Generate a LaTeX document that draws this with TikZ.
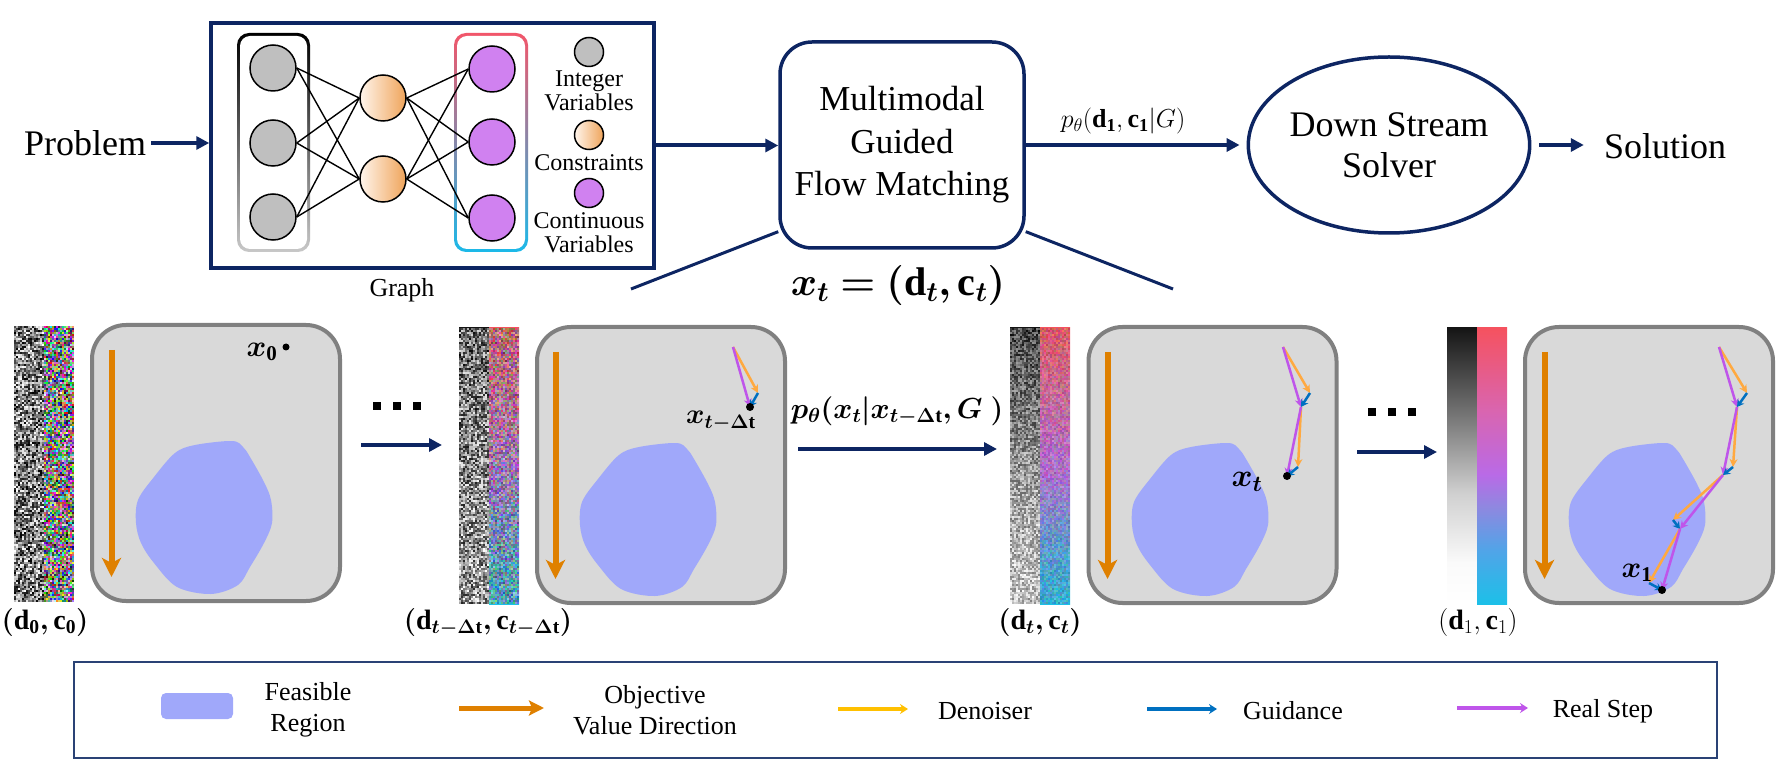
\RequirePackage{fix-cm}
\documentclass[tikz,border=0pt]{standalone}
\usepackage{amsmath,bm}
\usepackage{fontspec}
\setmainfont{Liberation Serif}
\usetikzlibrary{arrows.meta,shapes.geometric}

\definecolor{navy}{HTML}{0D2562}
\definecolor{legnavy}{HTML}{2A4275}
\definecolor{panelfill}{HTML}{D9D9D9}
\definecolor{panelborder}{HTML}{808080}
\definecolor{blobc}{HTML}{A0A8FA}
\definecolor{objor}{HTML}{DF8000}
\definecolor{denor}{HTML}{FFA940}
\definecolor{denleg}{HTML}{FFC000}
\definecolor{guid}{HTML}{0070C0}
\definecolor{realst}{HTML}{BF55EA}
\definecolor{graynode}{HTML}{BFBFBF}
\definecolor{purnode}{HTML}{D081F0}
\definecolor{orlight}{HTML}{FFF5EC}
\definecolor{ordark}{HTML}{EFA45A}
\definecolor{lgray}{HTML}{C8C8C8}
\definecolor{rtop}{HTML}{F2566A}
\definecolor{rbot}{HTML}{1BB9E9}
\definecolor{cb0}{HTML}{1CC0E8}
\definecolor{cb1}{HTML}{4FA5E8}
\definecolor{cb2}{HTML}{8E88E0}
\definecolor{cb3}{HTML}{B96AE6}
\definecolor{cb4}{HTML}{D965B0}
\definecolor{cb5}{HTML}{F5525F}
\definecolor{gb1}{HTML}{FAFAFA}
\definecolor{gb2}{HTML}{D0D0D0}
\definecolor{gb3}{HTML}{808080}
\definecolor{gb4}{HTML}{151515}

% TikZ maps a path onto the 25bp..75bp band of a shading
\pgfdeclareverticalshading{colbar}{100bp}{color(0bp)=(cb0); color(25bp)=(cb0); color(34.5bp)=(cb1); color(42.5bp)=(cb2); color(48.5bp)=(cb3); color(60bp)=(cb4); color(75bp)=(cb5); color(100bp)=(cb5)}
\pgfdeclareverticalshading{graybar}{100bp}{color(0bp)=(white); color(25bp)=(white); color(32.5bp)=(gb1); color(45bp)=(gb2); color(57.5bp)=(gb3); color(75bp)=(gb4); color(100bp)=(gb4)}

\newcommand\mygnoise[5]{%
 \begin{pgfscope}\pgfsetfillopacity{#5}%
 \foreach \ii in {1,...,#3}{\foreach \jj in {1,...,#4}{%
   \pgfmathsetmacro\gv{rnd}%
   \definecolor{nz}{gray}{\gv}\pgfsetfillcolor{nz}%
   \pgfpathrectangle{\pgfpointxy{#1+(\ii-1)*2}{#2+(\jj-1)*2}}{\pgfpointxy{2}{2}}%
   \pgfusepath{fill}%
 }}%
 \end{pgfscope}}
\newcommand\mycnoise[5]{%
 \begin{pgfscope}\pgfsetfillopacity{#5}%
 \foreach \ii in {1,...,#3}{\foreach \jj in {1,...,#4}{%
   \pgfmathsetmacro\rv{rnd}\pgfmathsetmacro\gv{rnd}\pgfmathsetmacro\bv{rnd}%
   \definecolor{nz}{rgb}{\rv,\gv,\bv}\pgfsetfillcolor{nz}%
   \pgfpathrectangle{\pgfpointxy{#1+(\ii-1)*2}{#2+(\jj-1)*2}}{\pgfpointxy{2}{2}}%
   \pgfusepath{fill}%
 }}%
 \end{pgfscope}}
\newcommand\mydt{\bm{t}\bm{-}\bm{\Delta}\mathbf{t}}

\tikzset{
  navyarrow/.style={draw=navy, line width=4pt, -{Triangle[length=13pt,width=13pt]}},
  navyline/.style={draw=navy, line width=3pt},
  edge/.style={draw=black, line width=1.4pt},
  gnode/.style={circle, draw=black, line width=1.5pt, fill=graynode, minimum size=46pt, inner sep=0pt},
  onode/.style={circle, draw=black, line width=1.5pt, left color=orlight, right color=ordark, minimum size=46pt, inner sep=0pt},
  pnode/.style={circle, draw=black, line width=1.5pt, fill=purnode, minimum size=46pt, inner sep=0pt},
  gsmall/.style={gnode, minimum size=29pt},
  osmall/.style={onode, minimum size=29pt},
  psmall/.style={pnode, minimum size=29pt},
  bigtxt/.style={inner sep=0pt, align=center, font=\fontsize{36pt}{42pt}\selectfont},
  gltxt/.style={inner sep=0pt, align=center, font=\fontsize{24pt}{24pt}\selectfont},
  legtxt/.style={inner sep=0pt, align=center, font=\fontsize{26pt}{31pt}\selectfont},
  mathlbl/.style={inner sep=0pt, font=\fontsize{28pt}{32pt}\selectfont},
  panel/.style={draw=panelborder, fill=panelfill, line width=4pt, rounded corners=34pt, minimum width=248pt, minimum height=276pt, inner sep=0pt},
  objarrow/.style={draw=objor, line width=6pt, -{Stealth[length=19pt,width=19pt,inset=5pt]}},
  den/.style={draw=denor, line width=2.5pt, -{Stealth[length=8pt,width=8pt]}},
  gd/.style={draw=guid, line width=2.5pt, -{Stealth[length=7pt,width=8pt]}},
  rs/.style={draw=realst, line width=2.5pt, -{Stealth[length=8pt,width=8pt]}},
  dotsq/.style={fill=black},
}

\begin{document}
\begin{tikzpicture}[x=1pt,y=-1pt]
\useasboundingbox (0,0) rectangle (1788,775);
\pgfmathsetseed{4242}

% ---------------- top row ----------------
\node[bigtxt] (prob) at (85,143) {Problem};
\node[draw=navy, line width=3.5pt, fill=white, minimum width=443pt, minimum height=245pt, inner sep=0pt] (gbox) at (432.5,145.5) {};
\draw[navyarrow, shorten <=5pt] (prob.east) -- (prob.east -| gbox.west);

% gradient frames
\shade[top color=black, bottom color=lgray, rounded corners=12pt] (237,33) rectangle (310,252);
\fill[white, rounded corners=10pt] (240,36) rectangle (307,249);
\shade[top color=rtop, bottom color=rbot, rounded corners=12pt] (454,33) rectangle (528,252);
\fill[white, rounded corners=10pt] (457,36) rectangle (525,249);

\node[gnode] (g1) at (273,68) {};
\node[gnode] (g2) at (273,143) {};
\node[gnode] (g3) at (273,217) {};
\node[onode] (o1) at (383,98) {};
\node[onode] (o2) at (383,179) {};
\node[pnode] (c1) at (492,69) {};
\node[pnode] (c2) at (492,142) {};
\node[pnode] (c3) at (492,218) {};
\foreach \g in {g1,g2,g3}{\foreach \o in {o1,o2}{\draw[edge] (\g.east) -- (\o.west);}}
\foreach \o in {o1,o2}{\foreach \c in {c1,c2,c3}{\draw[edge] (\o.east) -- (\c.west);}}

\node[gsmall] (lg1) at (589,52) {};
\node[gltxt] (tint) at (589,91) {Integer\\Variables};
\node[osmall] (lg2) at (589,135) {};
\node[gltxt] (tcon) at (589,163) {Constraints};
\node[psmall] (lg3) at (589,193) {};
\node[gltxt] (tcont) at (589,233) {Continuous\\Variables};

\node[inner sep=0pt, font=\fontsize{26pt}{30pt}\selectfont] (glabel) at (402,290) {Graph};

\node[draw=navy, line width=3.5pt, fill=white, rounded corners=32pt, minimum width=244pt, minimum height=206pt, inner sep=0pt, align=center, font=\fontsize{35pt}{42.5pt}\selectfont] (mm) at (902,145) {Multimodal\\Guided\\Flow Matching};
\draw[navyarrow] (gbox.east) -- (gbox.east -| mm.west);

\node[ellipse, draw=navy, line width=3.5pt, minimum width=264pt, minimum height=176pt, inner sep=0pt, align=center, font=\fontsize{36pt}{41pt}\selectfont] (ds) at (1389,145) {Down Stream\\Solver};
\draw[navyarrow, shorten >=7pt] (mm.east) -- (mm.east -| ds.west);
\node[inner sep=0pt, font=\fontsize{26pt}{30pt}\selectfont] (plbl) at (1123,121) {$p_{\theta}(\mathbf{d}_{\mathbf{1}},\mathbf{c}_{\mathbf{1}}|G)$};

\node[bigtxt] (sol) at (1665,146) {Solution};
\draw[navyarrow, shorten <=8pt, shorten >=20pt] (ds.east) -- (ds.east -| sol.west);

\coordinate (ll) at (631,289);
\coordinate (lr) at (1173,289);
\draw[navyline] (ll) -- (mm.215);
\draw[navyline] (mm.-35) -- (lr);
\node[inner sep=0pt, font=\fontsize{40pt}{44pt}\selectfont] (xt) at (898,286) {$\bm{x}_{\bm{t}}\bm{=}\bm{(}\mathbf{d}_{\bm{t}}\bm{,}\mathbf{c}_{\bm{t}}\bm{)}$};

% ---------------- strips ----------------
\mygnoise{14}{326}{15}{138}{1}
\mycnoise{44}{326}{15}{138}{1}
\shade[shading=graybar] (459,328) rectangle (489,604);
\mygnoise{459}{328}{15}{138}{0.85}
\shade[shading=colbar] (489,328) rectangle (519,604);
\mycnoise{489}{328}{15}{138}{0.5}
\shade[shading=graybar] (1010,328) rectangle (1040,604);
\mygnoise{1010}{328}{15}{138}{0.5}
\shade[shading=colbar] (1040,328) rectangle (1070,604);
\mycnoise{1040}{328}{15}{138}{0.25}
\shade[shading=graybar] (1447,328) rectangle (1477,604);
\shade[shading=colbar] (1477,328) rectangle (1507,604);

\node[mathlbl] (l1) at (45,622) {$\bm{(}\mathbf{d}_{\mathbf{0}}\bm{,}\mathbf{c}_{\mathbf{0}}\bm{)}$};
\node[mathlbl] (l2) at (488,622) {$\bm{(}\mathbf{d}_{\mydt}\bm{,}\mathbf{c}_{\mydt}\bm{)}$};
\node[mathlbl] (l3) at (1040,622) {$\bm{(}\mathbf{d}_{\bm{t}}\bm{,}\mathbf{c}_{\bm{t}}\bm{)}$};
\node[mathlbl] (l4) at (1478,622) {$(\mathbf{d}_{1},\mathbf{c}_{1})$};

% ---------------- panels ----------------
\node[panel] (p1) at (216,463) {};
\node[panel] (p2) at (661,465) {};
\node[panel] (p3) at (1212.5,465) {};
\node[panel] (p4) at (1649,465) {};
\foreach \ox/\oy in {92/325, 536/327, 1088/327, 1525/327}{
  \begin{scope}[shift={(\ox,\oy)}]
    \fill[blobc] plot[smooth cycle, tension=0.55] coordinates {(140,116) (103,120) (83,128) (62,152) (46,175) (44,198) (49,218) (62,238) (85,262) (119,269) (146,260) (158,242) (172,218) (180,198) (179,175) (172,157) (158,132) (151,122)};
    \draw[objarrow] (19.5,25) -- (19.5,252);
  \end{scope}
}

% panel 1
\coordinate (x0) at (286,347);
\fill (x0) circle (3.5pt);
\node[mathlbl, font=\fontsize{30pt}{32pt}\selectfont] (x0l) at (262,352) {$\bm{x}_{\mathbf{0}}$};

% panel 2
\coordinate (a2s) at (733,347);
\coordinate (a2o) at (758,393);
\coordinate (a2p) at (750,407);
\draw[den] (a2s) -- (a2o);
\draw[rs] (a2s) -- (a2p);
\draw[gd] (a2o) -- (a2p);
\fill (a2p) circle (4pt);
\node[mathlbl] (xtd) at (721,421) {$\bm{x}_{\mydt}$};

% panel 3
\coordinate (a3s) at (1283,347);
\coordinate (a3o1) at (1310,393);
\coordinate (a3p1) at (1301,407);
\coordinate (a3o2) at (1298,467);
\coordinate (a3p2) at (1287,476);
\draw[den] (a3s) -- (a3o1);
\draw[rs] (a3s) -- (a3p1);
\draw[gd] (a3o1) -- (a3p1);
\draw[den] (a3p1) -- (a3o2);
\draw[rs] (a3p1) -- (a3p2);
\draw[gd] (a3o2) -- (a3p2);
\fill (a3p2) circle (4pt);
\node[mathlbl, font=\fontsize{32pt}{34pt}\selectfont] (xtl) at (1247,482) {$\bm{x}_{\bm{t}}$};

% panel 4
\coordinate (a4s) at (1719,347);
\coordinate (a4o1) at (1747,393);
\coordinate (a4p1) at (1737,407);
\coordinate (a4o2) at (1733,467);
\coordinate (a4p2) at (1723,475);
\coordinate (a4o3) at (1673,520);
\coordinate (a4p3) at (1680,529);
\coordinate (a4o4) at (1649,583);
\coordinate (a4p4) at (1662,590);
\draw[den] (a4s) -- (a4o1);
\draw[rs] (a4s) -- (a4p1);
\draw[gd] (a4o1) -- (a4p1);
\draw[den] (a4p1) -- (a4o2);
\draw[rs] (a4p1) -- (a4p2);
\draw[gd] (a4o2) -- (a4p2);
\draw[den] (a4p2) -- (a4o3);
\draw[rs] (a4p2) -- (a4p3);
\draw[gd] (a4o3) -- (a4p3);
\draw[den] (a4p3) -- (a4o4);
\draw[rs] (a4p3) -- (a4p4);
\draw[gd] (a4o4) -- (a4p4);
\fill (a4p4) circle (4pt);
\node[mathlbl, font=\fontsize{30pt}{32pt}\selectfont] (x1l) at (1637,573) {$\bm{x}_{\mathbf{1}}$};

% ---------------- between panels ----------------
\foreach \cx in {377,397,417}{\fill[dotsq] ({\cx-4},402) rectangle +(8,8);}
\foreach \cx in {1372,1392,1412}{\fill[dotsq] ({\cx-4},408) rectangle +(8,8);}
\coordinate (m1a) at (361,445);
\coordinate (m1b) at (442,445);
\draw[navyarrow] (m1a) -- (m1b);
\coordinate (m2a) at (798,449);
\coordinate (m2b) at (997,449);
\draw[navyarrow] (m2a) -- (m2b);
\node[mathlbl, font=\fontsize{29pt}{32pt}\selectfont] (ptrans) at (897,411) {$\bm{p}_{\bm{\theta}}\bm{(}\bm{x}_{\bm{t}}\bm{|}\bm{x}_{\mydt}\bm{,}\bm{G}\;\bm{)}$};
\coordinate (m3a) at (1357,452);
\coordinate (m3b) at (1437,452);
\draw[navyarrow] (m3a) -- (m3b);

% ---------------- legend ----------------
\node[draw=legnavy, line width=1.5pt, minimum width=1643pt, minimum height=96pt, inner sep=0pt] (leg) at (895.5,710) {};
\fill[blobc, rounded corners=5pt] (161,693) rectangle (233,719);
\node[legtxt] (lfr) at (308,710) {Feasible\\Region};
\coordinate (lo1) at (459,708);
\coordinate (lo2) at (544,708);
\draw[draw=objor, line width=5pt, -{Stealth[length=15pt,width=15pt,inset=3pt]}] (lo1) -- (lo2);
\node[legtxt] (lov) at (655,710) {Objective\\Value Direction};
\coordinate (ld1) at (838,709);
\coordinate (ld2) at (908,709);
\draw[draw=denleg, line width=4.5pt, -{Stealth[length=8pt,width=10pt]}] (ld1) -- (ld2);
\node[legtxt] (lden) at (985,711) {Denoiser};
\coordinate (lg1a) at (1147,709);
\coordinate (lg1b) at (1217,709);
\draw[draw=guid, line width=4.5pt, -{Stealth[length=8pt,width=10pt]}] (lg1a) -- (lg1b);
\node[legtxt] (lgd) at (1293,711) {Guidance};
\coordinate (lr1) at (1457,708);
\coordinate (lr2) at (1528,708);
\draw[draw=realst, line width=4.5pt, -{Stealth[length=8pt,width=10pt]}] (lr1) -- (lr2);
\node[legtxt] (lrs) at (1603,711) {Real Step};
\end{tikzpicture}
\end{document}
